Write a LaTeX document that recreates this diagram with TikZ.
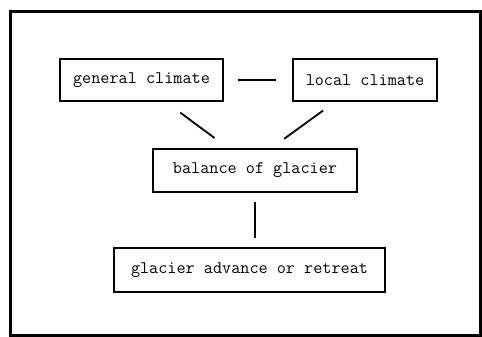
\documentclass[tikz,border=0pt]{standalone}
\usepackage{tikz}
\usetikzlibrary{calc}

\tikzset{
  box/.style={draw, rectangle, line width=1.6pt, align=center, inner sep=0pt,
    font=\ttfamily\fontsize{17.7}{20}\selectfont},
  link/.style={line width=1.8pt}
}

\begin{document}
\begin{tikzpicture}[x=1pt, y=-1pt]
\useasboundingbox (0,0) rectangle (482,337);
\draw[line width=3pt] (10,12) rectangle (480,335);

\node[box, minimum width=163, minimum height=42] (gc) at (141.5,80) {general climate};
\node[box, minimum width=144, minimum height=42] (lc) at (365,80) {local climate};
\node[box, minimum width=204, minimum height=43] (bal) at (255,170.5) {balance of glacier};
\node[box, minimum width=271, minimum height=44] (adv) at (249.5,270) {glacier advance or retreat};

\draw[link, shorten <=14pt, shorten >=16pt] (gc.east) -- (lc.west);
\draw[link, shorten <=18pt, shorten >=17pt] ($(gc.south east)+(-58,0)$) -- ($(bal.north west)+(76,0)$);
\draw[link, shorten <=15pt, shorten >=16pt] ($(lc.south west)+(43,0)$) -- ($(bal.north west)+(119,0)$);
\draw[link, shorten <=9pt, shorten >=9pt] (bal.south) -- (bal.south |- adv.north);
\end{tikzpicture}
\end{document}
